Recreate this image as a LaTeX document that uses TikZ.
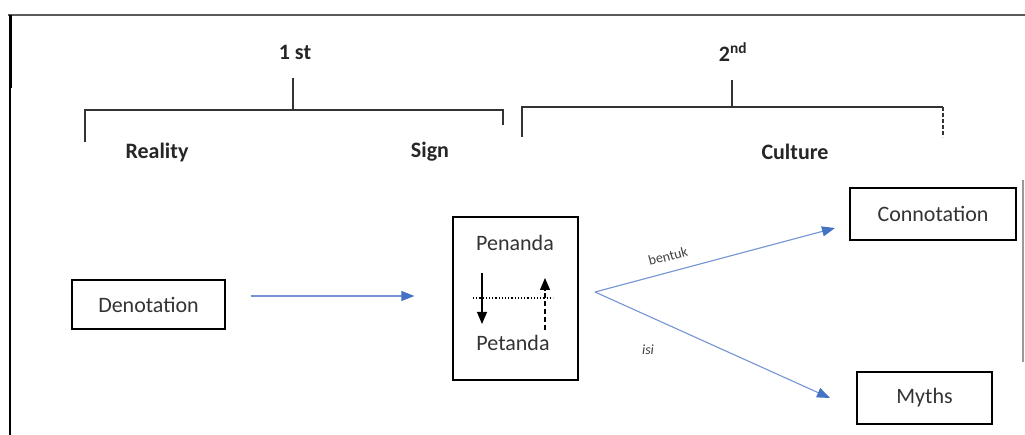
\documentclass[tikz,border=0pt]{standalone}
\usepackage{fontspec}
\setmainfont{Carlito}
\usetikzlibrary{arrows.meta}
\definecolor{arrblue}{RGB}{68,114,196}
\definecolor{framegray}{RGB}{90,90,90}
\tikzset{
  box/.style={draw=black, line width=1.3pt, minimum height=49pt, inner sep=0pt, font=\fontsize{22}{24}\selectfont, text=black!80},
  toplabel/.style={font=\fontsize{22}{24}\selectfont\bfseries, text=black!85, inner sep=0pt},
  brk/.style={draw=black!80, line width=1.4pt},
  blueline/.style={draw=arrblue!75, line width=1.1pt, -{Triangle[length=13pt,width=10pt,color=arrblue]}},
  small/.style={font=\fontsize{14}{15}\selectfont, text=black!75, inner sep=0pt},
  intip/.style={-{Triangle[length=12pt,width=10pt]}}
}
\begin{document}
\begin{tikzpicture}[x=1pt,y=-1pt]
\useasboundingbox (0,0) rectangle (1025,435);
% frame
\draw[framegray, line width=2pt] (8,15) -- (1025,15);
\draw[black, line width=3pt] (10,15) -- (10,88);
\draw[black, line width=2pt] (10,88) -- (10,435);
\draw[black!40, line width=1.2pt] (1023,180) -- (1023,362);
% bracket 1
\node[toplabel] (first) at (295,52) {1 st};
\coordinate (b1c) at (293,110);
\draw[brk] (85,142) -- (85,110) -- (503,110) -- (503,125);
\draw[brk] (b1c) -- (293,78);
\node[toplabel] (reality) at (157,153) {Reality};
\node[toplabel] (sign) at (430,152) {Sign};
% bracket 2
\node[toplabel] (second) at (733,52) {2\textsuperscript{nd}};
\coordinate (b2c) at (732,107);
\draw[brk] (522,137) -- (522,107) -- (943,107);
\draw[brk, dash pattern=on 4pt off 2pt] (943,107) -- (943,137);
\draw[brk] (b2c) -- (732,80);
\node[toplabel] (culture) at (795,152) {Culture};
% boxes
\node[box, minimum width=153pt] (den) at (148.5,304.5) {Denotation};
\node[box, minimum width=125pt, minimum height=163pt] (sig) at (515.5,298.5) {};
\node[font=\fontsize{22}{24}\selectfont, text=black!80] (pen) at (515,243) {Penanda};
\node[font=\fontsize{22}{24}\selectfont, text=black!80] (pet) at (513,343) {Petanda};
\node[box, minimum width=166pt, minimum height=52pt] (con) at (933,214) {Connotation};
\node[box, minimum width=135pt, minimum height=52pt] (myth) at (924.5,398) {Myths};
% inner arrows
\coordinate (da1) at (482,273);
\coordinate (da2) at (482,324);
\draw[line width=1.1pt, intip] (da1) -- (da2);
\coordinate (dl1) at (473,298);
\coordinate (dl2) at (553,298);
\draw[line width=1.2pt, dotted] (dl1) -- (dl2);
\coordinate (ua1) at (545,330);
\coordinate (ua2) at (545,278);
\draw[line width=1.1pt, dash pattern=on 5pt off 3pt, intip] (ua1) -- (ua2);
% blue arrows
\draw[blueline, shorten <=25pt, shorten >=38pt] (den.east |- 0,296) -- (sig.west |- 0,296);
\coordinate (fork) at (595,292);
\coordinate (conend) at (835,228);
\coordinate (mythend) at (830,398);
\draw[blueline] (fork) -- (conend);
\draw[blueline] (fork) -- (mythend);
\node[small, rotate=15] (bentuk) at (668,256) {bentuk};
\node[small, font=\fontsize{14}{15}\selectfont\itshape] (isi) at (648,350) {isi};
\end{tikzpicture}
\end{document}
